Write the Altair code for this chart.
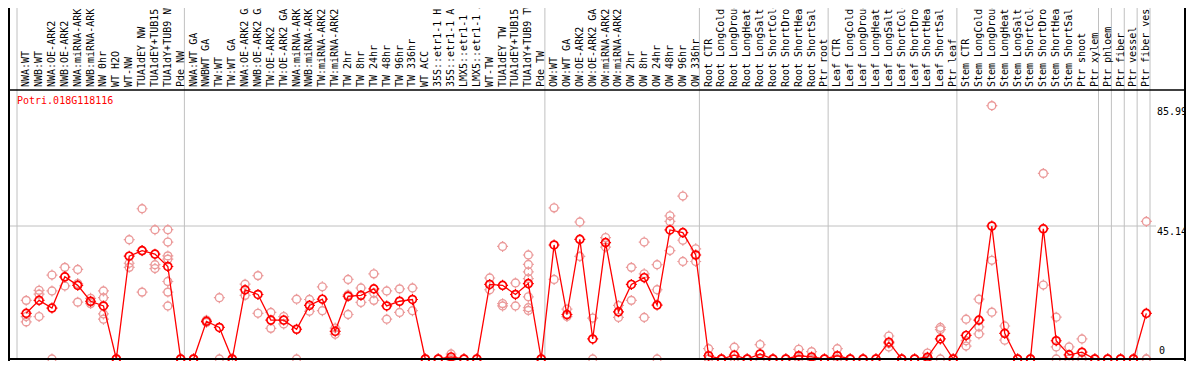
import altair as alt
import pandas as pd

gene = "Potri.018G118116"

labels = [
    "NWA:WT", "NWB:WT", "NWA:OE-ARK2", "NWB:OE-ARK2", "NWA:miRNA-ARK2", "NWB:miRNA-ARK2",
    "NW 0hr", "WT H2O", "WT-NW", "TUA1dEY NW", "TUA1dEY+TUB15 NW", "TUA1dY+TUB9 NW", "Pde NW",
    "NWA:WT GA", "NWBWT GA", "TW:WT", "TW:WT GA", "NWA:OE-ARK2 GA", "NWB:OE-ARK2 GA",
    "TW:OE-ARK2", "TW:OE-ARK2 GA", "NWA:miRNA-ARK2 GA", "NWB:miRNA-ARK2 GA", "TW:miRNA-ARK2",
    "TW:miRNA-ARK2 GA", "TW 2hr", "TW 8hr", "TW 24hr", "TW 48hr", "TW 96hr", "TW 336hr",
    "WT ACC", "35S::etr1-1 H2O", "35S::etr1-1 ACC", "LMX5::etr1-1 H2O", "LMX5::etr1-1 ACC",
    "WT-TW", "TUA1dEY TW", "TUA1dEY+TUB15 TW", "TUA1dY+TUB9 TW", "Pde TW",
    "OW:WT", "OW:WT GA", "OW:OE-ARK2", "OW:OE-ARK2 GA", "OW:miRNA-ARK2", "OW:miRNA-ARK2 GA",
    "OW 2hr", "OW 8hr", "OW 24hr", "OW 48hr", "OW 96hr", "OW 336hr",
    "Root CTR", "Root LongCold", "Root LongDrought", "Root LongHeat", "Root LongSalt",
    "Root ShortCold", "Root ShortDrought", "Root ShortHeat", "Root ShortSalt", "Ptr root",
    "Leaf CTR", "Leaf LongCold", "Leaf LongDrought", "Leaf LongHeat", "Leaf LongSalt",
    "Leaf ShortCold", "Leaf ShortDrought", "Leaf ShortHeat", "Leaf ShortSalt", "Ptr leaf",
    "Stem CTR", "Stem LongCold", "Stem LongDrought", "Stem LongHeat", "Stem LongSalt",
    "Stem ShortCold", "Stem ShortDrought", "Stem ShortHeat", "Stem ShortSalt",
    "Ptr shoot", "Ptr xylem", "Ptr phloem", "Ptr fiber", "Ptr vessel", "Ptr fiber vessel",
]

means = [
    15.5, 19.9, 17.3, 27.9, 25.0, 19.6, 18.0, 0, 34.9, 36.8, 35.6, 31.4, 0,
    0, 12.8, 10.7, 0, 23.5, 21.9, 13.2, 13.2, 10.1, 18.2, 20.3, 9.4, 21.3, 21.6, 23.8,
    18.0, 19.6, 20.2, 0, 0, 0.7, 0, 0, 25.3, 25.0, 21.9, 25.6, 0,
    38.7, 15.1, 40.6, 6.8, 39.5, 16.0, 25.3, 27.6, 18.3, 43.8, 42.9, 35.3,
    1.1, 0, 1.3, 0, 1.7, 0, 0, 1.1, 0.7, 0,
    1.1, 0, 0, 0, 5.7, 0, 0, 0.6, 6.8, 0,
    8.0, 13.2, 45.14, 8.7, 0, 0, 44.2, 6.2, 1.4, 2.3, 0, 0, 0, 0, 15.5,
]

replicates = [
    [19.9, 14.4, 12.6], [23.3, 22.0, 14.4], [28.5, 23.1, 0], [31.1, 27.8, 24.8],
    [30.4, 25.6, 19.3], [20.6, 19.4, 18.8], [23.1, 20.8, 15.3, 13.5], [0, 0],
    [40.5, 32.5, 31.1], [51.0, 36.7, 22.7], [43.9, 32.0, 30.7],
    [43.9, 39.7, 35.0, 33.9, 26.3, 22.7, 18.0], [0, 0],
    [0, 0], [13.2, 12.4], [20.8, 0], [0, 0], [25.4, 21.6], [28.3, 15.5], [15.8, 10.4],
    [14.4, 11.9], [20.3, 0], [20.2, 16.2], [24.5, 16.4], [10.5, 8.4], [27.0, 21.8, 15.1],
    [24.1, 19.2], [28.9, 22.4, 19.9], [23.1, 13.5], [23.8, 15.8], [24.1, 16.4], [0, 0],
    [0, 0], [1.7, 0], [0, 0], [0, 0], [27.5, 23.5], [38.2, 18.8, 18.0], [25.8, 18.0],
    [35.3, 32.1, 29.6, 27.3, 21.1, 17.4, 16.5], [0, 0],
    [51.3, 27.0], [16.9, 14.4], [46.5, 34.8], [13.9, 0], [41.2, 38.0], [18.2, 14.1],
    [31.1, 19.9], [39.7, 28.9, 14.1], [32.0, 23.5, 0], [48.6, 46.7, 36.8],
    [55.3, 40.3, 33.1], [37.4, 33.1],
    [3.5, 0, 0], [0, 0], [4.0, 0, 0], [0, 0], [4.9, 0, 0], [0, 0], [0, 0], [3.3, 0, 0],
    [2.5, 0, 0], [0, 0],
    [3.5, 0, 0], [0, 0], [0, 0], [0, 0], [7.8, 5.3, 4.1], [0, 0], [0, 0], [2.0, 0, 0],
    [10.7, 10.0, 0], [0, 0],
    [13.5, 6.2, 4.4], [20.3, 10.9, 8.5], [85.99, 33.5, 15.9], [11.2, 6.4], [0, 0], [0, 0],
    [63.0, 25.1], [14.2, 4.1, 0], [4.1, 0, 0], [6.8, 0, 0], [0, 0], [0, 0], [0, 0], [0, 0],
    [46.7, 0, 0],
]

group_starts = [0, 13, 41, 53, 63, 73, 84, 85, 86, 87, 88]
ytick_top = [85.99, 45.14]
ytick_top_text = ["85.99", "45.14"]
ytick_zero = [0]
ytick_zero_text = ["0"]

assert len(labels) == len(means) == len(replicates) == 88

# layout (pixels)
W, H = 1178, 353
X0, X1 = 9, 1142
YTOP, YZERO = 82, 351
YMAX = 91.3
OFF = 0.715

xs = alt.Scale(domain=[0, 88], range=[X0, X1], nice=False, zero=False)
ys = alt.Scale(domain=[0, YMAX], range=[YZERO, YTOP], nice=False, zero=False)

mean_df = pd.DataFrame({
    "pos": [i + OFF for i in range(len(labels))],
    "mean": means,
    "label": labels,
})
rep_rows = []
for i, vals in enumerate(replicates):
    for v in vals:
        rep_rows.append({"pos": i + OFF, "value": v})
rep_df = pd.DataFrame(rep_rows)
grid_df = pd.DataFrame({"g": group_starts})
one = pd.DataFrame({"a": [0]})

TICKS = "M0,-1L0,-0.74M0,0.74L0,1M-1,0L-0.74,0M0.74,0L1,0"
FONT = "DejaVu Sans Mono"
PINK = "#eb9a9a"
RED = "#ff0000"

vgrid = alt.Chart(grid_df).mark_rule(color="#c0c0c0", strokeWidth=1).encode(
    x=alt.X("g:Q", scale=xs, axis=None),
    y=alt.value(0), y2=alt.value(YZERO),
)
hgrid = alt.Chart(pd.DataFrame({"v": [ytick_top[1]]})).mark_rule(
    color="#c0c0c0", strokeWidth=1).encode(
    y=alt.Y("v:Q", scale=ys, axis=None),
    x=alt.value(2), x2=alt.value(1148),
)
frame_left = alt.Chart(one).mark_rule(color="black", strokeWidth=2).encode(
    x=alt.value(1), y=alt.value(0), y2=alt.value(H))
frame_right = alt.Chart(one).mark_rule(color="black", strokeWidth=2).encode(
    x=alt.value(W - 1), y=alt.value(0), y2=alt.value(H))
frame_mid = alt.Chart(one).mark_rule(color="black", strokeWidth=1.5).encode(
    y=alt.value(YTOP), x=alt.value(0), x2=alt.value(W))
frame_bottom = alt.Chart(one).mark_rule(color="black", strokeWidth=2).encode(
    y=alt.value(YZERO), x=alt.value(0), x2=alt.value(W))


def symbol_layers(df, ycol, color, sw):
    enc = dict(
        x=alt.X("pos:Q", scale=xs, axis=None),
        y=alt.Y(f"{ycol}:Q", scale=ys, axis=None),
    )
    ring = alt.Chart(df).mark_point(
        shape="circle", filled=False, stroke=color, strokeWidth=sw, size=62, opacity=1
    ).encode(**enc)
    ticks = alt.Chart(df).mark_point(
        shape=TICKS, filled=False, stroke=color, strokeWidth=1.2, size=120, opacity=1
    ).encode(**enc)
    return [ring, ticks]


rep_layers = symbol_layers(rep_df, "value", PINK, 1.4)
line = alt.Chart(mean_df).mark_line(color=RED, strokeWidth=1.3).encode(
    x=alt.X("pos:Q", scale=xs, axis=None),
    y=alt.Y("mean:Q", scale=ys, axis=None),
)
mean_layers = symbol_layers(mean_df, "mean", RED, 1.7)

cat_labels = alt.Chart(mean_df).mark_text(
    angle=270, align="left", baseline="middle", font=FONT, fontSize=10, color="black"
).encode(
    x=alt.X("pos:Q", scale=xs, axis=None),
    y=alt.value(YTOP - 3),
    text="label:N",
)
ylab_top = alt.Chart(pd.DataFrame({"v": ytick_top, "t": ytick_top_text})).mark_text(
    align="left", baseline="top", font=FONT, fontSize=10, color="black", dy=1
).encode(
    x=alt.value(X1 + 7),
    y=alt.Y("v:Q", scale=ys, axis=None),
    text="t:N",
)
ylab_zero = alt.Chart(pd.DataFrame({"v": ytick_zero, "t": ytick_zero_text})).mark_text(
    align="left", baseline="bottom", font=FONT, fontSize=10, color="black", dy=-3
).encode(
    x=alt.value(X1 + 9),
    y=alt.Y("v:Q", scale=ys, axis=None),
    text="t:N",
)
title = alt.Chart(pd.DataFrame({"t": [gene]})).mark_text(
    align="left", baseline="top", font=FONT, fontSize=10, color=RED
).encode(
    x=alt.value(X0), y=alt.value(YTOP + 6), text="t:N",
)

chart = alt.layer(
    vgrid, hgrid, *rep_layers, line, *mean_layers,
    frame_left, frame_right, frame_mid, frame_bottom,
    cat_labels, ylab_top, ylab_zero, title,
).properties(
    width=W, height=H, padding=0, autosize=alt.AutoSizeParams(type="none"),
).configure_view(stroke=None)

chart.save("out.html", embed_options={"renderer": "svg", "actions": False})
